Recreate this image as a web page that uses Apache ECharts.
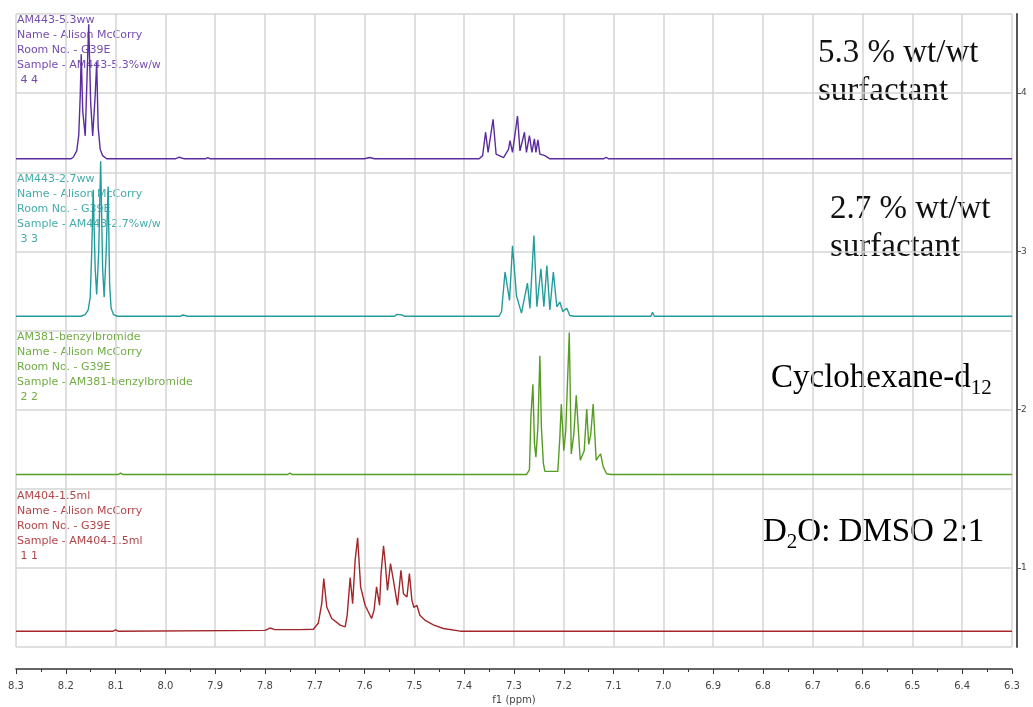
<!DOCTYPE html>
<html lang="en">
<head>
<meta charset="UTF-8">
<title>1H NMR stack</title>
<style>
  html, body { margin: 0; padding: 0; background: #fff; }
  #chart { width: 1033px; height: 707px; }
</style>
</head>
<body>
<div id="chart"></div>
<script src="https://cdn.jsdelivr.net/npm/echarts@6/dist/echarts.min.js"></script>
<script>
  // each spectrum: [ppm, height above its own baseline]
  var spec4 = [
    [8.3, 0], [8.19, 0], [8.185, 0.01], [8.178, 0.05], [8.174, 0.15], [8.171, 0.4], [8.169, 0.66],
    [8.166, 0.3], [8.161, 0.145], [8.158, 0.45], [8.154, 0.85], [8.15, 0.35], [8.146, 0.145],
    [8.141, 0.4], [8.138, 0.61], [8.135, 0.2], [8.131, 0.06], [8.126, 0.02], [8.118, 0],
    [7.98, 0], [7.972, 0.01], [7.962, 0], [7.92, 0], [7.915, 0.008], [7.91, 0],
    [7.6, 0], [7.59, 0.008], [7.58, 0],
    [7.37, 0], [7.363, 0.02], [7.357, 0.168], [7.352, 0.04], [7.342, 0.25], [7.336, 0.03],
    [7.321, 0.008], [7.311, 0.06], [7.308, 0.115], [7.303, 0.04], [7.293, 0.27], [7.288, 0.05],
    [7.279, 0.168], [7.275, 0.04], [7.269, 0.147], [7.264, 0.04], [7.259, 0.126], [7.256, 0.04],
    [7.252, 0.12], [7.248, 0.03], [7.238, 0.02], [7.228, 0], [7.12, 0], [7.115, 0.01], [7.11, 0],
    [6.3, 0]
  ];
  var spec3 = [
    [8.3, 0], [8.17, 0], [8.161, 0.01], [8.155, 0.04], [8.151, 0.12], [8.148, 0.4], [8.145, 0.8],
    [8.141, 0.3], [8.138, 0.137], [8.134, 0.4], [8.13, 0.98], [8.126, 0.3], [8.123, 0.12],
    [8.119, 0.4], [8.115, 0.82], [8.112, 0.2], [8.109, 0.05], [8.104, 0.01], [8.097, 0],
    [7.97, 0], [7.965, 0.008], [7.955, 0], [7.54, 0], [7.535, 0.012], [7.525, 0.008], [7.52, 0],
    [7.372, 0], [7.368, 0.012], [7.362, 0],
    [7.33, 0], [7.325, 0.03], [7.318, 0.28], [7.309, 0.1], [7.303, 0.445], [7.295, 0.13],
    [7.285, 0.02], [7.273, 0.21], [7.268, 0.05], [7.26, 0.51], [7.254, 0.06], [7.246, 0.3],
    [7.24, 0.06], [7.234, 0.32], [7.228, 0.04], [7.221, 0.28], [7.214, 0.06], [7.208, 0.09],
    [7.202, 0.03], [7.194, 0.05], [7.188, 0.005], [7.18, 0], [7.025, 0], [7.022, 0.025],
    [7.018, 0], [6.3, 0]
  ];
  var spec2 = [
    [8.3, 0], [8.095, 0], [8.09, 0.008], [8.085, 0], [7.755, 0], [7.75, 0.008], [7.745, 0],
    [7.275, 0], [7.269, 0.03], [7.266, 0.37], [7.262, 0.57], [7.259, 0.2], [7.256, 0.11],
    [7.252, 0.3], [7.248, 0.75], [7.245, 0.3], [7.241, 0.07], [7.238, 0.02], [7.212, 0.02],
    [7.208, 0.23], [7.205, 0.445], [7.2, 0.15], [7.196, 0.28], [7.189, 0.897], [7.185, 0.13],
    [7.18, 0.25], [7.175, 0.5], [7.167, 0.09], [7.159, 0.15], [7.154, 0.414], [7.15, 0.19],
    [7.146, 0.25], [7.141, 0.445], [7.135, 0.09], [7.131, 0.11], [7.126, 0.13], [7.121, 0.05],
    [7.114, 0.005], [7.105, 0], [6.49, 0], [6.487, 0.012], [6.484, 0], [6.3, 0]
  ];
  var spec1 = [
    [8.3, 0], [8.105, 0], [8.1, 0.008], [8.095, 0], [7.8, 0.005], [7.79, 0.02], [7.78, 0.01],
    [7.73, 0.01], [7.703, 0.012], [7.693, 0.05], [7.686, 0.175], [7.682, 0.332], [7.676, 0.153],
    [7.666, 0.08], [7.649, 0.038], [7.639, 0.027], [7.635, 0.1], [7.629, 0.338], [7.624, 0.174],
    [7.619, 0.447], [7.614, 0.59], [7.608, 0.28], [7.599, 0.164], [7.586, 0.08], [7.581, 0.132],
    [7.576, 0.28], [7.57, 0.164], [7.567, 0.364], [7.562, 0.54], [7.559, 0.447], [7.554, 0.258],
    [7.548, 0.427], [7.542, 0.32], [7.534, 0.164], [7.527, 0.384], [7.522, 0.237], [7.515, 0.216],
    [7.51, 0.364], [7.505, 0.195], [7.501, 0.15], [7.495, 0.164], [7.489, 0.1], [7.479, 0.07],
    [7.462, 0.04], [7.442, 0.017], [7.408, 0], [7.25, 0], [7.247, 0.01], [7.243, 0], [6.3, 0]
  ];

  var spectra = [spec4, spec3, spec2, spec1];
  var baselines = [3.585, 2.59, 1.59, 0.6];
  var specColors = ['#5a2ca0', '#259c9c', '#579c22', '#a3262a'];
  var sampleNotes = [
    ['AM443-5.3ww', 'Name - Alison McCorry', 'Room No. - G39E', 'Sample - AM443-5.3%w/w', ' 4 4'],
    ['AM443-2.7ww', 'Name - Alison McCorry', 'Room No. - G39E', 'Sample - AM443-2.7%w/w', ' 3 3'],
    ['AM381-benzylbromide', 'Name - Alison McCorry', 'Room No. - G39E', 'Sample - AM381-benzylbromide', ' 2 2'],
    ['AM404-1.5ml', 'Name - Alison McCorry', 'Room No. - G39E', 'Sample - AM404-1.5ml', ' 1 1']
  ];
  var rightTicks = [1, 2, 3, 4];

  var chart = echarts.init(document.getElementById('chart'));

  var series = spectra.map(function (s, i) {
    return {
      type: 'line',
      symbol: 'none',
      animation: false,
      yAxisIndex: 0,
      lineStyle: { color: specColors[i], width: 1.4 },
      data: s.map(function (p) { return [p[0], p[1] + baselines[i]]; })
    };
  });

  // sample headers, top left of each trace
  var noteTops = [13, 172, 330, 489];
  var graphics = sampleNotes.map(function (lines, i) {
    return {
      type: 'text', x: 17, y: noteTops[i], silent: true,
      style: {
        text: lines.join('\n'), fill: specColors[i], opacity: 0.85,
        font: '11px "DejaVu Sans"', lineHeight: 15, textVerticalAlign: 'top'
      }
    };
  });

  var serif = { fontFamily: '"Liberation Serif"', fontSize: 33, fill: '#111' };
  var richSub = {
    t: { fontFamily: '"Liberation Serif"', fontSize: 33, lineHeight: 40, color: '#111', verticalAlign: 'middle' },
    s: { fontFamily: '"Liberation Serif"', fontSize: 21, lineHeight: 20, padding: [20, 0, 0, 0], color: '#111', verticalAlign: 'middle' }
  };
  graphics.push(
    { type: 'text', x: 818, y: 34, silent: true,
      style: Object.assign({ text: '5.3 % wt/wt\nsurfactant', lineHeight: 38, textVerticalAlign: 'top' }, serif) },
    { type: 'text', x: 830, y: 190, silent: true,
      style: Object.assign({ text: '2.7 % wt/wt\nsurfactant', lineHeight: 38, textVerticalAlign: 'top' }, serif) },
    { type: 'text', x: 771, y: 378, silent: true,
      style: { text: '{t|Cyclohexane-d}{s|12}', rich: richSub, textVerticalAlign: 'middle' } },
    { type: 'text', x: 763, y: 532, silent: true,
      style: { text: '{t|D}{s|2}{t|O: DMSO 2:1}', rich: richSub, textVerticalAlign: 'middle' } }
  );

  var option = {
    backgroundColor: '#fff',
    animation: false,
    grid: { left: 16, right: 21, top: 14, bottom: 60, outerBoundsMode: 'none', containLabel: false },
    xAxis: {
      type: 'value', inverse: true, min: 6.3, max: 8.3, interval: 0.1,
      offset: 22,
      name: 'f1 (ppm)', nameLocation: 'middle', nameGap: 26,
      nameTextStyle: { fontFamily: '"DejaVu Sans"', fontSize: 10, color: '#444' },
      axisLine: { lineStyle: { color: '#333', width: 1.5 } },
      axisTick: { length: 5, lineStyle: { color: '#333' } },
      minorTick: { show: true, splitNumber: 2, length: 3, lineStyle: { color: '#333' } },
      axisLabel: {
        fontFamily: '"DejaVu Sans"', fontSize: 10, color: '#444', margin: 12,
        formatter: function (v) { return v.toFixed(1); }
      },
      splitLine: { show: true, lineStyle: { color: '#d4d4d4', width: 1.5 } }
    },
    yAxis: [
      {
        type: 'value', position: 'right', min: 0.5, max: 4.5, interval: 0.5, offset: 5,
        axisLine: { show: true, lineStyle: { color: '#555', width: 2 } },
        axisTick: { show: true, length: 4, customValues: rightTicks, lineStyle: { color: '#555' } },
        axisLabel: {
          customValues: rightTicks, fontFamily: '"DejaVu Sans"', fontSize: 9, color: '#444', margin: 4
        },
        splitLine: { show: false }
      },
      {
        // half-unit grid lines only
        type: 'value', position: 'right', min: 0.5, max: 4.5, interval: 0.5,
        axisLine: { show: false }, axisTick: { show: false }, axisLabel: { show: false },
        splitLine: { show: true, lineStyle: { color: '#d4d4d4', width: 1.5 } }
      }
    ],
    series: series,
    graphic: graphics
  };

  chart.setOption(option);
  window.addEventListener('resize', function () {
    chart.resize();
  });
</script>
</body>
</html>
